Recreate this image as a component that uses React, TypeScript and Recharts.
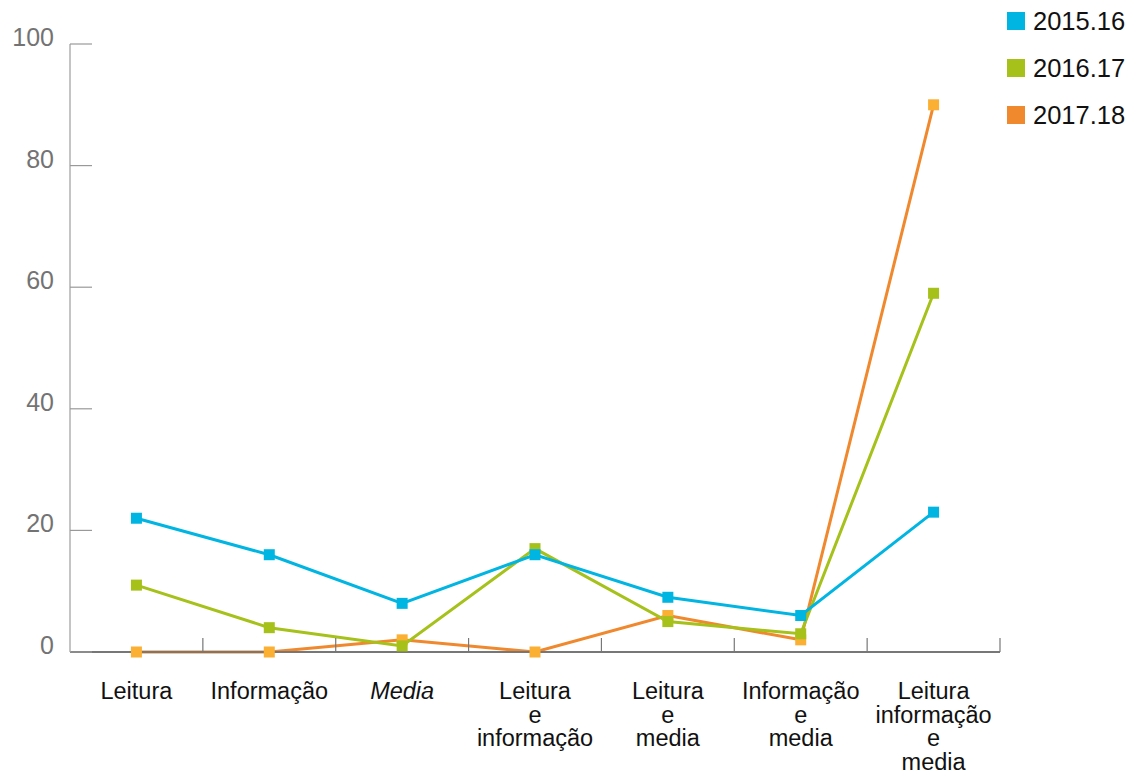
import React from 'react';
import { LineChart, Line, XAxis, YAxis } from 'recharts';

const categories = [
    'Leitura',
    'Informação',
    'Media',
    'Leitura\ne\ninformação',
    'Leitura\ne\nmedia',
    'Informação\ne\nmedia',
    'Leitura\ninformação\ne\nmedia',
];

const s2015 = [22, 16, 8, 16, 9, 6, 23];
const s2016 = [11, 4, 1, 17, 5, 3, 59];
const s2017 = [0, 0, 2, 0, 6, 2, 90];

const yTicks = [0, 20, 40, 60, 80, 100];

const SERIES = [
    { key: 's2015', name: '2015.16', line: '#00b5e2', marker: '#00b5e2' },
    { key: 's2016', name: '2016.17', line: '#a5c11a', marker: '#a5c11a' },
    { key: 's2017', name: '2017.18', line: '#f0882d', marker: '#fbb034' },
];

const FONT = '"Liberation Sans", Arial, Helvetica, sans-serif';

// plot is 930px wide, 7 bands
const PLOT_W = 930;
const HALF_BAND = PLOT_W / categories.length / 2;

const data = categories.map((c, i) => ({
    cat: c,
    s2015: s2015[i],
    s2016: s2016[i],
    s2017: s2017[i],
}));

const squareDot = (color: string) => (props: any) => {
    const { cx, cy, index } = props;
    if (cx == null || cy == null) return <g key={index} />;
    return <rect key={index} x={cx - 5.5} y={cy - 5.5} width={11} height={11} fill={color} />;
};

const YTick = (props: any) => {
    const { x, y, payload } = props;
    return (
        <g>
            <line x1={x} x2={x + 22} y1={y} y2={y} stroke="#999" strokeWidth={1.2} />
            <text x={x - 16} y={y - 7} dy="0.36em" textAnchor="end" fontSize={25} fill="#737373" fontFamily={FONT}>
                {payload.value}
            </text>
        </g>
    );
};

const XTick = (props: any) => {
    const { x, y, payload } = props;
    const lines = String(payload.value).split('\n');
    const italic = payload.value === 'Media';
    return (
        <g>
            <line x1={x + HALF_BAND} x2={x + HALF_BAND} y1={y - 14} y2={y} stroke="#777" strokeWidth={1.2} />
            <text x={x} y={y + 47} textAnchor="middle" fontSize={23.5} fill="#111" fontFamily={FONT} fontStyle={italic ? 'italic' : 'normal'}>
                {lines.map((l, i) => (
                    <tspan key={i} x={x} dy={i === 0 ? 0 : 23.5}>{l}</tspan>
                ))}
            </text>
        </g>
    );
};

export default function App() {
    return (
        <div style={{ position: 'relative', width: 1139, height: 768 }}>
            <LineChart width={1139} height={768} data={data} margin={{ top: 36, right: 147, bottom: 0, left: 0 }}>
                <XAxis
                    dataKey="cat"
                    interval={0}
                    height={124}
                    padding={{ left: HALF_BAND, right: HALF_BAND }}
                    tick={<XTick />}
                    tickLine={false}
                    tickSize={0}
                    tickMargin={0}
                    axisLine={{ stroke: '#777', strokeWidth: 2 }}
                />
                <YAxis
                    domain={[0, 100]}
                    ticks={yTicks}
                    width={62}
                    tick={<YTick />}
                    tickLine={false}
                    tickSize={0}
                    tickMargin={0}
                    axisLine={{ stroke: '#b0b0b0', strokeWidth: 1.5 }}
                />
                {SERIES.slice().reverse().map(s => (
                    <Line
                        key={s.key}
                        type="linear"
                        dataKey={s.key}
                        name={s.name}
                        stroke={s.line}
                        strokeWidth={3}
                        dot={squareDot(s.marker)}
                        activeDot={false}
                        isAnimationActive={false}
                    />
                ))}
            </LineChart>
            <div style={{ position: 'absolute', left: 999, top: 1, fontFamily: FONT }}>
                {SERIES.map(s => (
                    <div key={s.key} style={{ display: 'flex', alignItems: 'center', height: 24, marginBottom: 23 }}>
                        <div style={{ width: 18, height: 18, background: s.line, marginRight: 8 }} />
                        <span style={{ fontSize: 25.5, color: '#111', lineHeight: '24px' }}>{s.name}</span>
                    </div>
                ))}
            </div>
        </div>
    );
}
